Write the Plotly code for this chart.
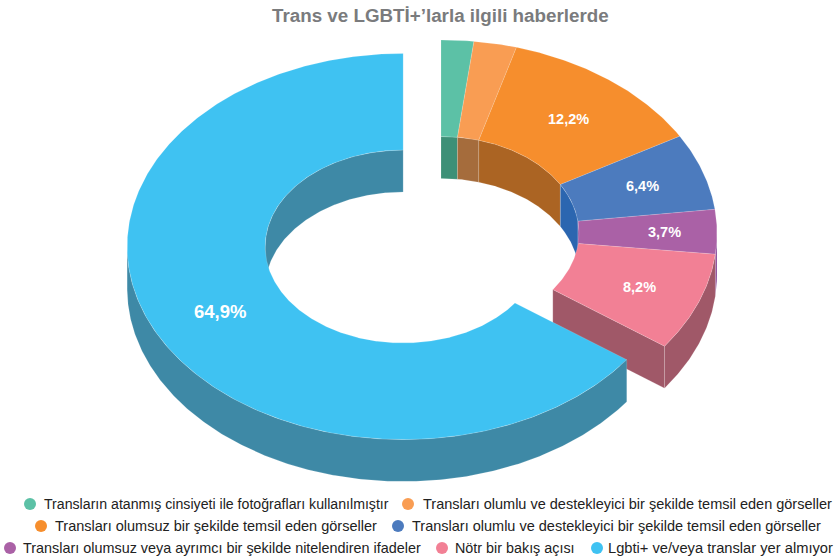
import numpy as np
import plotly.graph_objects as go

title = "Trans ve LGBTİ+’larla ilgili haberlerde"
labels = [
    "Transların atanmış cinsiyeti ile fotoğrafları kullanılmıştır",
    "Transları olumlu ve destekleyici bir şekilde temsil eden görseller",
    "Transları olumsuz bir şekilde temsil eden görseller",
    "Transları olumlu ve destekleyici bir şekilde temsil eden görseller",
    "Transları olumsuz veya ayrımcı bir şekilde nitelendiren ifadeler",
    "Nötr bir bakış açısı",
    "Lgbti+ ve/veya translar yer almıyor",
]
values = [1.9, 2.5, 12.2, 6.4, 3.7, 8.2, 64.9]
value_text = ["", "", "12,2%", "6,4%", "3,7%", "8,2%", "64,9%"]
top_colors = ["#5cc1a6", "#f99d53", "#f68e2d", "#4c7bbe", "#aa61a6", "#f28095", "#3fc2f2"]
wall_colors = ["#3d9077", "#a56c3c", "#ab6423", "#2b66b0", "#8a4a9a", "#a05868", "#3e89a6"]
pulled = [0, 0, 0, 0, 0, 0, 1]
label_sizes = [14.5, 14.5, 14.5, 14.5, 14.5, 14.5, 18.5]
label_radii = [0.75, 0.75, 0.75, 0.77, 0.81, 0.77, 0.745]
legend_sizes = [14.15, 14.5, 14.5, 14.5, 14.4, 14.35, 14.7]

# legend layout: (slice index, marker x, text x, y)
legend_rows = [(0, 30, 44, 504), (1, 408, 423, 504),
               (2, 41, 55, 526), (3, 398, 412, 526),
               (4, 10, 23, 548), (5, 442, 455, 548), (6, 597, 608, 548)]

CX, CY, RX, RY = 441.0, 233.0, 276.0, 193.0
HOLE, DEPTH, PULL = 0.5, 42.0, 42.5
SQUASH = RY / RX

total = sum(values)
edges = np.concatenate([[0], np.cumsum(values)]) * 360.0 / total


def pt(a, frac, ox, oy, drop=0.0):
    r = np.radians(a)
    return ox + RX * frac * np.sin(r), oy - RY * frac * np.cos(r) + drop


def arc(a0, a1, frac, ox, oy, drop=0.0):
    n = max(2, int(abs(a1 - a0) * 2) + 2)
    return pt(np.linspace(a0, a1, n), frac, ox, oy, drop)


def offset(i):
    if not pulled[i]:
        return CX, CY
    mid = np.radians((edges[i] + edges[i + 1]) / 2)
    return CX + PULL * np.sin(mid), CY - PULL * SQUASH * np.cos(mid)


fig = go.Figure()


def poly(xs, ys, color, edge="rgba(255,255,255,0.25)"):
    fig.add_trace(go.Scatter(x=np.append(xs, xs[0]), y=np.append(ys, ys[0]), mode="lines",
                             fill="toself", fillcolor=color, line=dict(color=edge, width=0.6),
                             hoverinfo="skip", showlegend=False))


def wall(a0, a1, frac, ox, oy, color):
    if a1 <= a0:
        return
    x1, y1 = arc(a0, a1, frac, ox, oy)
    x2, y2 = arc(a1, a0, frac, ox, oy, DEPTH)
    poly(np.concatenate([x1, x2]), np.concatenate([y1, y2]), color)


def draw(i):
    a0, a1 = edges[i], edges[i + 1]
    ox, oy = offset(i)
    # walls of the hole that face the viewer
    wall(a0, min(a1, 90), HOLE, ox, oy, wall_colors[i])
    wall(max(a0, 270), a1, HOLE, ox, oy, wall_colors[i])
    # cut face exposed by the pulled-out neighbour
    if i + 1 < len(values) and pulled[i + 1]:
        xa, ya = pt(a1, HOLE, ox, oy)
        xb, yb = pt(a1, 1, ox, oy)
        poly(np.array([xa, xb, xb, xa]), np.array([ya, yb, yb + DEPTH, ya + DEPTH]), wall_colors[i])
    # outer wall
    wall(max(a0, 90), min(a1, 270), 1, ox, oy, wall_colors[i])
    # top face
    xo, yo = arc(a0, a1, 1, ox, oy)
    xi, yi = arc(a1, a0, HOLE, ox, oy)
    poly(np.concatenate([xo, xi]), np.concatenate([yo, yi]), top_colors[i])


for i in [k for k in range(len(values)) if not pulled[k]]:
    draw(i)
for i in [k for k in range(len(values)) if pulled[k]]:
    draw(i)

annotations = []
for i, txt in enumerate(value_text):
    if txt:
        ox, oy = offset(i)
        lx, ly = pt((edges[i] + edges[i + 1]) / 2, label_radii[i], ox, oy)
        annotations.append(dict(x=lx, y=ly, text=f"<b>{txt}</b>", showarrow=False, xanchor="center",
                                yanchor="middle", font=dict(size=label_sizes[i], color="white")))

for i, mx, tx, ly in legend_rows:
    fig.add_trace(go.Scatter(x=[mx], y=[ly], mode="markers", hoverinfo="skip", showlegend=False,
                             marker=dict(size=12, color=top_colors[i], line=dict(width=0))))
    annotations.append(dict(x=tx, y=ly, text=labels[i], showarrow=False, xanchor="left", yanchor="middle",
                            xshift=-2, font=dict(size=legend_sizes[i], color="#222222")))

annotations.append(dict(x=440, y=15, text=f"<b>{title}</b>", showarrow=False, xanchor="center",
                        yanchor="middle", font=dict(size=18.8, color="#7a7b7d")))

fig.update_layout(
    width=834, height=560, margin=dict(l=0, r=0, t=0, b=0),
    paper_bgcolor="white", plot_bgcolor="white",
    font=dict(family="Liberation Sans, Arial, sans-serif"),
    xaxis=dict(range=[0, 834], visible=False, fixedrange=True),
    yaxis=dict(range=[560, 0], visible=False, fixedrange=True),
    annotations=annotations, showlegend=False,
)
fig.write_html("out.html", config=dict(displayModeBar=False),
               post_script="document.body.style.margin='0';document.body.style.overflow='hidden';")
